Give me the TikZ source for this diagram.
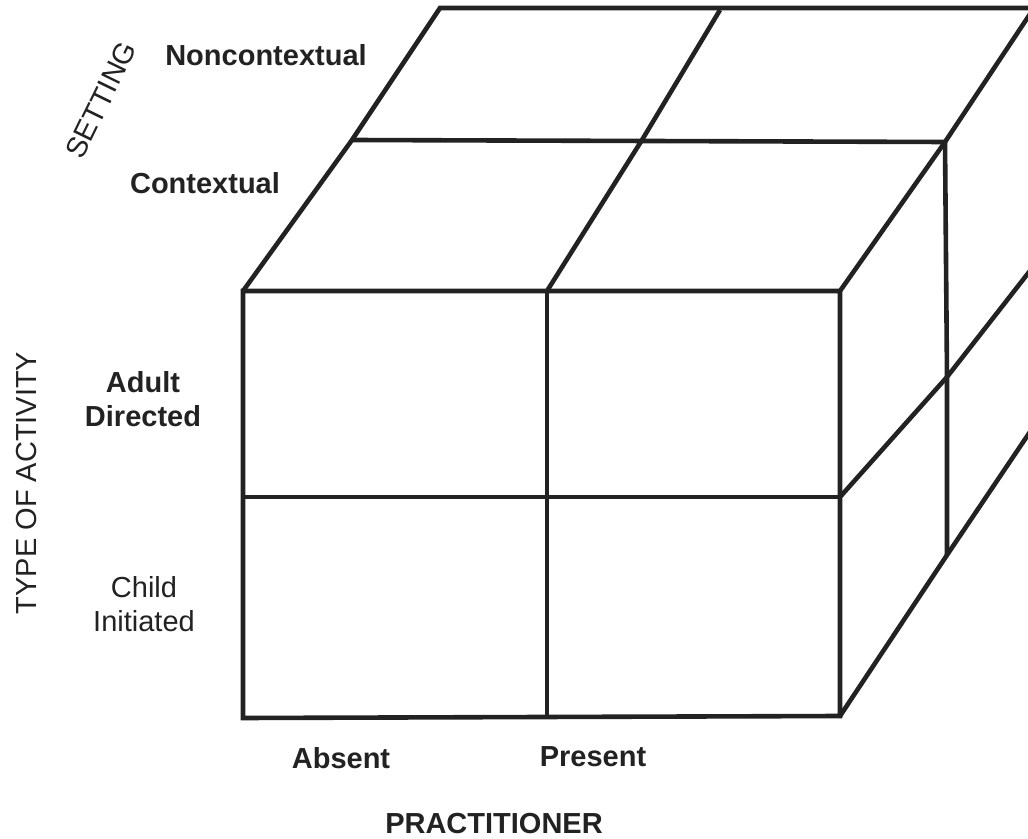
\documentclass[tikz,border=0pt]{standalone}
\usepackage{fontspec}
\setmainfont{Liberation Sans}
\usetikzlibrary{positioning}
\definecolor{inkgray}{RGB}{34,34,34}

\begin{document}
\begin{tikzpicture}[
    x=0.5pt,y=-0.5pt,
    edge/.style={draw=inkgray,line width=2.3pt,line join=miter},
    level/.style={font=\fontsize{14.5}{17}\selectfont\bfseries,text=inkgray,
      align=center,inner sep=0pt},
    plainlevel/.style={font=\fontsize{14.5}{17}\selectfont,text=inkgray,
      align=center,inner sep=0pt},
    axis/.style={font=\fontsize{14.5}{17}\selectfont,text=inkgray,inner sep=0pt}
  ]
    \useasboundingbox (0,0) rectangle (1028,839);
    \clip (0,0) rectangle (1028,839);

    % front face
    \coordinate (fTL) at (243,291);
    \coordinate (fTM) at (547,291);
    \coordinate (fTR) at (840,291);
    \coordinate (fML) at (243,497);
    \coordinate (fMM) at (547,497);
    \coordinate (fMR) at (840,497);
    \coordinate (fBL) at (243,718);
    \coordinate (fBM) at (547,718);
    \coordinate (fBR) at (840,716);
    % middle depth
    \coordinate (mL) at (352,140);
    \coordinate (mM) at (642,140);
    \coordinate (mR) at (945,142);
    \coordinate (mRm) at (947,377);
    \coordinate (mRb) at (947,555);
    % back
    \coordinate (bL) at (440,8);
    \coordinate (bM) at (720,10);
    \coordinate (bR) at (1034,8);
    \coordinate (bRm) at (1040,258);
    \coordinate (bRb) at (1040,417);

    \draw[edge] (fTL) -- (fTR) -- (fBR) -- (fBL) -- cycle;
    \draw[edge] (fTM) -- (fBM);
    \draw[edge] (fML) -- (fMR);

    \draw[edge] (fTL) -- (mL) -- (bL) -- (bR);
    \draw[edge] (fTM) -- (mM) -- (bM);
    \draw[edge] (fTR) -- (mR) -- (bR);
    \draw[edge] (mL) -- (mR);

    \draw[edge] (mR) -- (mRm) -- (mRb);
    \draw[edge] (fMR) -- (mRm) -- (bRm);
    \draw[edge] (fBR) -- (mRb) -- (bRb);

    \node[level] (noncontext) at (266,55) {Noncontextual};
    \node[level] (context) at (205,183) {Contextual};
    \node[axis,rotate=64] (setting) at (101,100) {SETTING};

    \node[level] (adult) at (143,399) {Adult\\Directed};
    \node[plainlevel] (child) at (144,604) {Child\\Initiated};
    \node[axis,rotate=90] (activity) at (27,483) {TYPE OF ACTIVITY};

    \node[level] (absent) at (341,758) {Absent};
    \node[level] (present) at (593,757) {Present};
    \node[level] (practitioner) at (494,824) {PRACTITIONER};
  \end{tikzpicture}
\end{document}
